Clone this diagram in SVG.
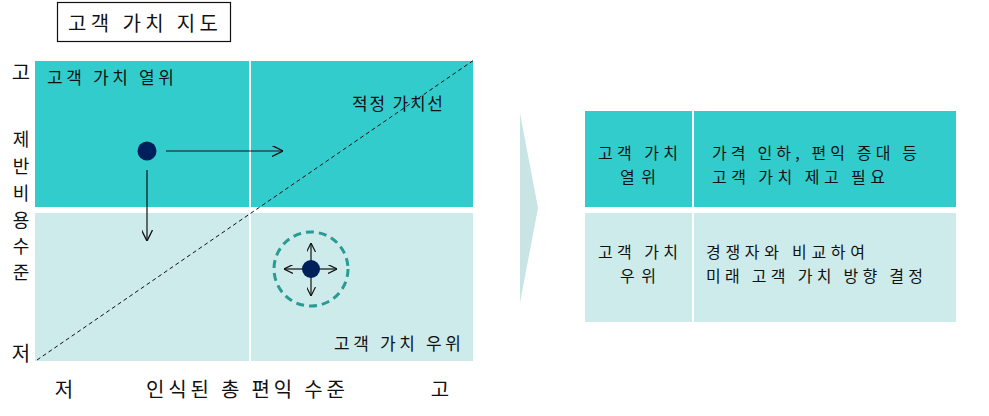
<svg xmlns="http://www.w3.org/2000/svg" width="989" height="416" viewBox="0 0 989 416">
<style>
text{font-family:"Noto Sans CJK KR","Noto Sans",sans-serif;fill:#111}
.t16{font-size:17px}
.tt{font-size:16px}
.t20{font-size:20px}
.ty{font-size:18px}
.dark{fill:#33CCCC}
.light{fill:#CDEBEA}
.arr{stroke:#111;stroke-width:1.2;fill:none}
.dot{fill:#00205B}
</style>
<defs>
<marker id="ah" viewBox="0 0 10 10" refX="10" refY="5" markerWidth="11" markerHeight="11" markerUnits="userSpaceOnUse" orient="auto">
<path d="M0,0 L10,5 L0,10" fill="none" stroke="#111" stroke-width="1.2"/>
</marker>
<marker id="ahs" viewBox="0 0 10 10" refX="10" refY="5" markerWidth="9" markerHeight="9" markerUnits="userSpaceOnUse" orient="auto">
<path d="M0,0 L10,5 L0,10" fill="none" stroke="#111" stroke-width="1.3"/>
</marker>
</defs>

<g id="title">
<rect x="57.5" y="2.5" width="173" height="39" fill="#fff" stroke="#111" stroke-width="1.2"/>
<text class="t20" x="68" y="31" textLength="150" lengthAdjust="spacing">고객 가치 지도</text>
</g>

<g id="map">
<rect class="dark" x="35" y="61" width="214" height="146"/>
<rect class="dark" x="251" y="61" width="222" height="146"/>
<rect class="light" x="35" y="213" width="214" height="148"/>
<rect class="light" x="251" y="213" width="222" height="148"/>
<text class="t16" x="47" y="84" textLength="127" lengthAdjust="spacing">고객 가치 열위</text>
<text class="t16" x="352" y="110" textLength="91" lengthAdjust="spacing">적정 가치선</text>
<text class="t16" x="334" y="350" textLength="127" lengthAdjust="spacing">고객 가치 우위</text>
</g>

<g id="y-axis">
<text class="t20" x="21" y="80" text-anchor="middle">고</text>
<text class="ty" x="21" y="146" text-anchor="middle">제</text>
<text class="ty" x="21" y="173" text-anchor="middle">반</text>
<text class="ty" x="21" y="200" text-anchor="middle">비</text>
<text class="ty" x="21" y="227" text-anchor="middle">용</text>
<text class="ty" x="21" y="253" text-anchor="middle">수</text>
<text class="ty" x="21" y="279" text-anchor="middle">준</text>
<text class="t20" x="21" y="361" text-anchor="middle">저</text>
</g>

<g id="x-axis">
<text class="t20" x="64" y="397" text-anchor="middle">저</text>
<text class="t20" x="146" y="397" textLength="199" lengthAdjust="spacing">인식된 총 편익 수준</text>
<text class="t20" x="440" y="397" text-anchor="middle">고</text>
</g>

<g id="connectors">
<line x1="37" y1="360" x2="474" y2="60" stroke="#111" stroke-width="1" stroke-dasharray="4 3"/>
<line class="arr" x1="166" y1="151" x2="283" y2="151" marker-end="url(#ah)"/>
<line class="arr" x1="147" y1="170" x2="147" y2="241" marker-end="url(#ah)"/>
<line class="arr" x1="311" y1="269" x2="311" y2="243" marker-end="url(#ahs)"/>
<line class="arr" x1="311" y1="269" x2="311" y2="296" marker-end="url(#ahs)"/>
<line class="arr" x1="311" y1="269" x2="284" y2="269" marker-end="url(#ahs)"/>
<line class="arr" x1="311" y1="269" x2="337" y2="269" marker-end="url(#ahs)"/>
</g>

<g id="point-inferior">
<circle class="dot" cx="147" cy="151" r="9.5"/>
</g>

<g id="point-superior">
<circle cx="311" cy="269" r="37" fill="none" stroke="#2A9A95" stroke-width="3" stroke-dasharray="8 5"/>
<circle class="dot" cx="311" cy="269" r="9"/>
</g>

<g id="chevron">
<polygon points="520,113 538,208 520,303" fill="#C8E4E4"/>
</g>

<g id="table">
<rect class="dark" x="585" y="111" width="107" height="96"/>
<rect class="dark" x="694" y="111" width="262" height="96"/>
<rect class="light" x="585" y="213" width="107" height="109"/>
<rect class="light" x="694" y="213" width="262" height="109"/>
<text class="tt" x="598" y="159" textLength="80" lengthAdjust="spacing">고객 가치</text>
<text class="tt" x="620" y="183" textLength="36" lengthAdjust="spacing">열위</text>
<text class="tt" x="712" y="159" textLength="205" lengthAdjust="spacing">가격 인하, 편익 증대 등</text>
<text class="tt" x="712" y="183" textLength="173" lengthAdjust="spacing">고객 가치 제고 필요</text>
<text class="tt" x="598" y="258" textLength="80" lengthAdjust="spacing">고객 가치</text>
<text class="tt" x="620" y="282" textLength="36" lengthAdjust="spacing">우위</text>
<text class="tt" x="706" y="258" textLength="159" lengthAdjust="spacing">경쟁자와 비교하여</text>
<text class="tt" x="706" y="282" textLength="217" lengthAdjust="spacing">미래 고객 가치 방향 결정</text>
</g>
</svg>
